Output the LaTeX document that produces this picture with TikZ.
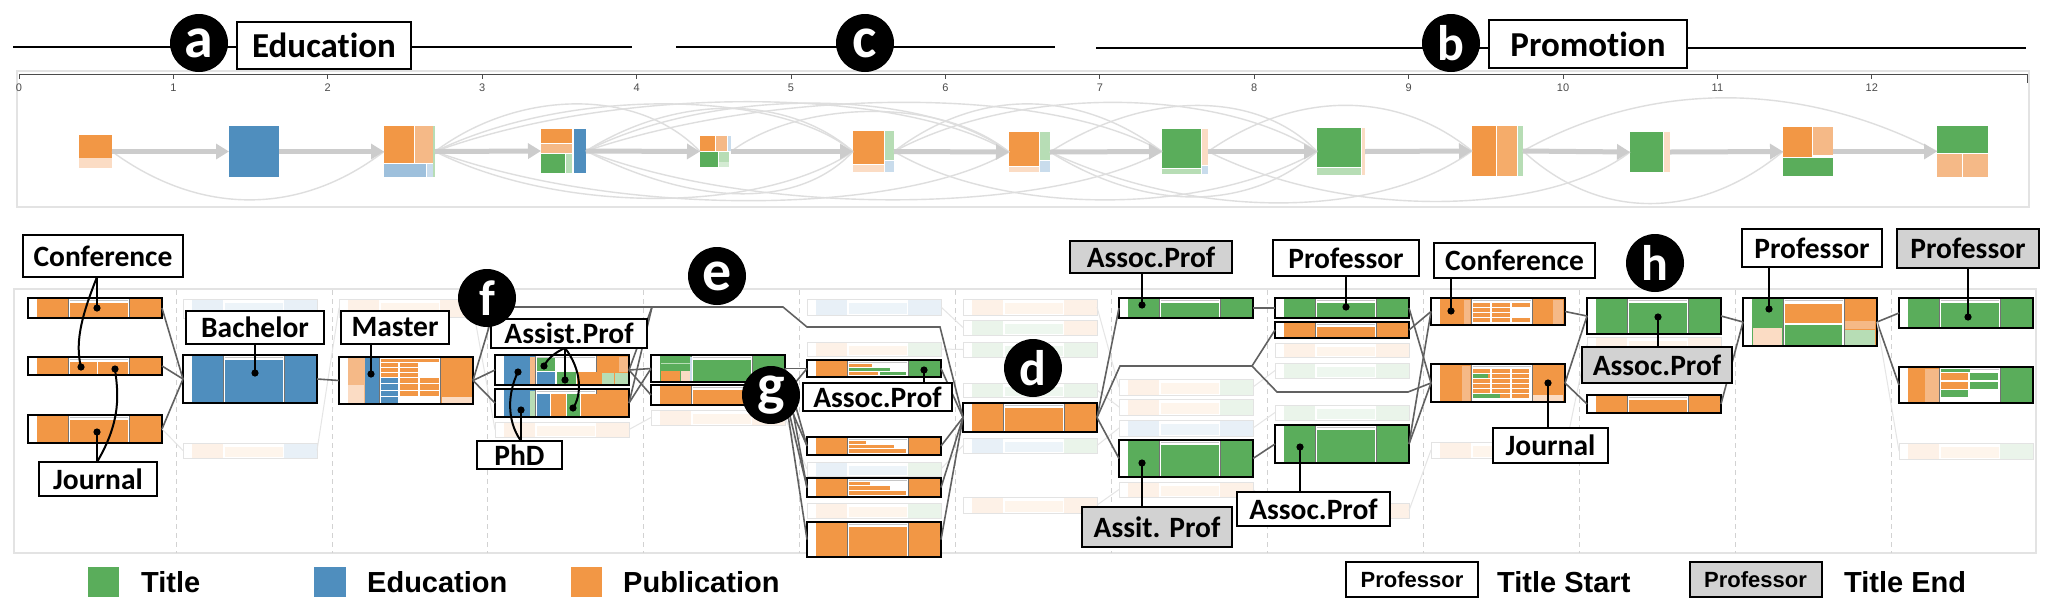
\documentclass[tikz,border=0pt]{standalone}
\usepackage{fontspec}
\newfontfamily\lblf{Carlito}[Ligatures={NoCommon}]
\newfontfamily\arl{Liberation Sans}
\usetikzlibrary{arrows.meta}
\definecolor{cO}{HTML}{F29745}
\definecolor{cG}{HTML}{5AAD5B}
\definecolor{cB}{HTML}{4F8EBE}
\definecolor{cOl}{HTML}{F5B987}
\definecolor{cOll}{HTML}{FBDCC4}
\definecolor{cGl}{HTML}{B7DDB5}
\definecolor{cBl}{HTML}{9EC0DC}
\definecolor{cBll}{HTML}{C9DCEC}
\definecolor{lgray}{HTML}{D2D2D2}
\definecolor{ovgray}{HTML}{CCCCCC}
\newcommand{\card}[7]{%
 \fill[white] (#2,#3) rectangle ({#2+134},{#3+#4});
 \fill[#5] ({#2+9},#3) rectangle ({#2+40},{#3+#4});
 \fill[#7] ({#2+101},#3) rectangle ({#2+134},{#3+#4});
 \fill[#6] ({#2+41.5},{#3+5}) rectangle ({#2+99.5},{#3+#4-1.5});
 \draw[gray!45,line width=.6] ({#2+41.5},{#3+2.5}) -- ({#2+99.5},{#3+2.5});
 \draw[black!55,line width=.6] ({#2+40},#3) -- ({#2+40},{#3+#4}) ({#2+101},#3) -- ({#2+101},{#3+#4});
 \node[cardbox,minimum width=134,minimum height=#4,anchor=north west] (#1) at (#2,#3) {};
}
\newcommand{\fcard}[6]{%
 \fill[#5!13] ({#2+9},#3) rectangle ({#2+40},{#3+#4});
 \fill[#6!13] ({#2+101},#3) rectangle ({#2+134},{#3+#4});
 \fill[#5!10] ({#2+41.5},{#3+4}) rectangle ({#2+99.5},{#3+#4-1.5});
 \node[fadebox,minimum width=134,minimum height=#4,anchor=north west] (#1) at (#2,#3) {};
}
\begin{document}
\begin{tikzpicture}[x=1pt,y=-1pt,
 lbl/.style={draw=black,line width=2,fill=white,font=\lblf\bfseries\fontsize{29.5}{30}\selectfont,inner sep=0,outer sep=0},
 toplbl/.style={lbl,font=\lblf\bfseries\fontsize{35}{36}\selectfont},
 glbl/.style={lbl,fill=lgray},
 circ/.style={circle,fill=black,minimum size=58,inner sep=0,text=white,font=\lblf\bfseries\fontsize{50}{50}\selectfont},
 circx/.style={circ,font=\lblf\bfseries\fontsize{58}{58}\selectfont},
 cardbox/.style={draw=black,line width=2.2,inner sep=0,outer sep=0},
 fadebox/.style={draw=gray!22,line width=0.8,inner sep=0,outer sep=0},
 ovn/.style={inner sep=0,outer sep=0},
 link/.style={draw=black!62,line width=1.6},
 flink/.style={draw=gray!20,line width=1},
 conn/.style={line width=2,black},
 ovarr/.style={draw=ovgray,line width=5,-{Triangle[length=13,width=15]}},
 ovc/.style={draw=gray!26,line width=1.4},
 ticklbl/.style={font=\arl\fontsize{11}{11}\selectfont,text=gray!60!black,inner sep=0},
 leg/.style={font=\arl\bfseries\fontsize{29}{30}\selectfont,inner sep=0,anchor=west},
 lgbox/.style={draw=black,line width=2,inner sep=0,minimum width=132,minimum height=35,font=\arl\bfseries\fontsize{22}{22}\selectfont}
]
\useasboundingbox (0,0) rectangle (2054,606);
\fill[white] (0,0) rectangle (2054,606);

% ---------- top stage lines ----------
\coordinate (ta1) at (13,47); \coordinate (ta2) at (632,47);
\coordinate (tc1) at (676,47); \coordinate (tc2) at (1055,47);
\coordinate (tb1) at (1096,48); \coordinate (tb2) at (2026,48);
\draw[line width=2.6] (ta1) -- (ta2);
\draw[line width=2.6] (tc1) -- (tc2);
\draw[line width=2.6] (tb1) -- (tb2);
\node[toplbl,minimum width=174,minimum height=47] (ledu) at (324,45.5) {Education};
\node[toplbl,minimum width=198,minimum height=48] (lpro) at (1588,44) {Promotion};

% ---------- overview panel ----------
\draw[gray!22,line width=1.2] (17,71) rectangle (2029,207);
\draw[gray!60!black,line width=0.9] (19,74) -- (2027,74);
\foreach \i in {0,...,12} {
 \draw[gray!60!black,line width=0.9] ({19+154.4*\i},74) -- ({19+154.4*\i},79);
 \node[ticklbl] (tk\i) at ({19+154.4*\i},88) {\i};
}
\draw[gray!60!black,line width=0.9] (2027,74) -- (2027,83);

% glyphs
\fill[cO] (79,135) rectangle (112,158); \fill[cOll] (79,158) rectangle (112,168);
\fill[cB] (229,126) rectangle (279,177);
\fill[cO] (384,126) rectangle (414,163); \fill[cOl] (414.5,126) rectangle (433,163); \fill[cGl] (433,126) rectangle (435,177); \fill[cBl] (384,163.5) rectangle (426,177); \fill[cBll] (426.5,163.5) rectangle (433,177);
\fill[cO] (541,129) rectangle (572,143); \fill[cOl] (541,143.5) rectangle (572,153); \fill[cG] (541,154) rectangle (565,173); \fill[cGl] (565.5,154) rectangle (572,173); \fill[cB] (574,129) rectangle (586,173);
\fill[cO] (700,136) rectangle (715,151); \fill[cOl] (715.5,136) rectangle (727,151); \fill[cBll] (727.5,136) rectangle (731,151); \fill[cG] (700,152) rectangle (718,167); \fill[cGl] (718.5,152) rectangle (729,162); \fill[cGl!60] (718.5,162) rectangle (729,167);
\fill[cO] (853,131) rectangle (884,164); \fill[cOll] (853,164.5) rectangle (884,172); \fill[cGl] (884.5,131) rectangle (894,160); \fill[cBll] (884.5,160.5) rectangle (894,172);
\fill[cO] (1009,132) rectangle (1039,166); \fill[cOll] (1009,166.5) rectangle (1039,172); \fill[cGl] (1039.5,132) rectangle (1050,160); \fill[cBll] (1039.5,160.5) rectangle (1050,172);
\fill[cG] (1162,129) rectangle (1201,168); \fill[cGl] (1162,168.5) rectangle (1201,174); \fill[cOll] (1201.5,129) rectangle (1208,165); \fill[cBll] (1201.5,165.5) rectangle (1208,174);
\fill[cG] (1317,128) rectangle (1361,167); \fill[cGl] (1317,167.5) rectangle (1361,175); \fill[cOll] (1361.5,128) rectangle (1365,175);
\fill[cO] (1472,126) rectangle (1496,176); \fill[cO!80!white] (1496.5,126) rectangle (1517,176); \fill[cGl] (1517.5,126) rectangle (1523,176);
\fill[cG] (1630,132) rectangle (1663,172); \fill[cOll] (1663.5,132) rectangle (1670,172);
\fill[cO] (1783,127) rectangle (1812,157); \fill[cOl] (1812.5,127) rectangle (1833,155); \fill[cG] (1783,158) rectangle (1833,176);
\fill[cG] (1937,126) rectangle (1988,153); \fill[cOl] (1937,154) rectangle (1961.5,177); \fill[cOl] (1962.5,154) rectangle (1988,177);

\node[ovn,minimum width=33,minimum height=33,anchor=north west] (o1) at (79,135) {};
\node[ovn,minimum width=50,minimum height=51,anchor=north west] (o2) at (229,126) {};
\node[ovn,minimum width=51,minimum height=51,anchor=north west] (o3) at (384,126) {};
\node[ovn,minimum width=45,minimum height=44,anchor=north west] (o4) at (541,129) {};
\node[ovn,minimum width=31,minimum height=31,anchor=north west] (o5) at (700,136) {};
\node[ovn,minimum width=41,minimum height=41,anchor=north west] (o6) at (853,131) {};
\node[ovn,minimum width=41,minimum height=40,anchor=north west] (o7) at (1009,132) {};
\node[ovn,minimum width=46,minimum height=45,anchor=north west] (o8) at (1162,129) {};
\node[ovn,minimum width=48,minimum height=47,anchor=north west] (o9) at (1317,128) {};
\node[ovn,minimum width=51,minimum height=50,anchor=north west] (o10) at (1472,126) {};
\node[ovn,minimum width=40,minimum height=40,anchor=north west] (o11) at (1630,132) {};
\node[ovn,minimum width=50,minimum height=49,anchor=north west] (o12) at (1783,127) {};
\node[ovn,minimum width=51,minimum height=51,anchor=north west] (o13) at (1937,126) {};

% thin curves above
\draw[ovc] (o3.east) .. controls (520,88) and (640,88) .. (o5.west);
\draw[ovc] (o3.east) .. controls (570,86) and (780,90) .. (o6.west);
\draw[ovc] (o3.east) .. controls (620,84) and (900,86) .. (o7.west);
\draw[ovc] (o4.east) .. controls (680,92) and (790,96) .. (o6.west);
\draw[ovc] (o4.east) .. controls (710,88) and (920,86) .. (o7.west);
\draw[ovc] (o4.east) .. controls (780,86) and (1050,86) .. (o8.west);
\draw[ovc] (o5.east) .. controls (800,100) and (940,96) .. (o7.west);
\draw[ovc] (o6.east) .. controls (980,86) and (1080,90) .. (o8.west);
\draw[ovc] (o6.east) .. controls (1020,84) and (1220,88) .. (o9.west);
\draw[ovc] (o7.east) .. controls (1150,88) and (1260,92) .. (o9.west);
\draw[ovc] (o8.east) .. controls (1300,88) and (1400,92) .. (o10.west);
\draw[ovc] (o10.east) .. controls (1650,80) and (1800,80) .. (o13.west);
% thin curves below
\draw[ovc] (o1.east) .. controls (200,216) and (300,216) .. (o3.west);
\draw[ovc] (o3.east) .. controls (560,214) and (760,214) .. (o6.west);
\draw[ovc] (o3.east) .. controls (620,218) and (900,216) .. (o7.west);
\draw[ovc] (o4.east) .. controls (700,208) and (800,208) .. (o6.west);
\draw[ovc] (o4.east) .. controls (760,218) and (1050,214) .. (o8.west);
\draw[ovc] (o6.east) .. controls (1000,214) and (1200,218) .. (o9.west);
\draw[ovc] (o7.east) .. controls (1150,214) and (1250,210) .. (o9.west);
\draw[ovc] (o7.east) .. controls (1200,222) and (1380,218) .. (o10.west);
\draw[ovc] (o8.east) .. controls (1350,222) and (1550,214) .. (o11.west);
\draw[ovc] (o10.east) .. controls (1600,222) and (1700,220) .. (o12.west);
% main arrows
\draw[ovarr] (o1.east) -- (o2.west);
\draw[ovarr] (o2.east) -- (o3.west);
\draw[ovarr] (o3.east) -- (o4.west);
\draw[ovarr] (o4.east) -- (o5.west);
\draw[ovarr] (o5.east) -- (o6.west);
\draw[ovarr] (o6.east) -- (o7.west);
\draw[ovarr] (o7.east) -- (o8.west);
\draw[ovarr] (o8.east) -- (o9.west);
\draw[ovarr] (o9.east) -- (o10.west);
\draw[ovarr] (o10.east) -- (o11.west);
\draw[ovarr] (o11.east) -- (o12.west);
\draw[ovarr] (o12.east) -- (o13.west);

% ---------- detail panel ----------
\draw[gray!22,line width=1.2] (14,289) rectangle (2036,553);
\foreach \k in {0,...,11}
 \draw[gray!35,line width=0.8,dash pattern=on 5pt off 4pt] ({176+155.9*\k},290) -- ({176+155.9*\k},553);

% faded cards
\fcard{f1a}{183}{299}{19}{cB}{cB}
\fcard{f1b}{183}{443}{15}{cO}{cB}
\fcard{f2a}{339}{299}{18}{cO}{cO}
\fcard{f3a}{495}{422}{15}{cO}{cO}
\fcard{f4a}{651}{410}{15}{cO}{cO}
\fcard{f5a}{807}{299}{16}{cB}{cB}
\fcard{f5b}{807}{342}{14}{cO}{cG}
\fcard{f5c}{807}{462}{14}{cB}{cG}
\fcard{f5d}{807}{503}{15}{cO}{cG}
\fcard{f6a}{963}{299}{16}{cO}{cO}
\fcard{f6b}{963}{320}{15}{cG}{cO}
\fcard{f6c}{963}{342}{15}{cG}{cG}
\fcard{f6d}{963}{383}{14}{cG}{cG}
\fcard{f6e}{963}{438}{15}{cB}{cG}
\fcard{f6f}{963}{497}{16}{cO}{cO}
\fcard{f7a}{1119}{379}{16}{cO}{cG}
\fcard{f7b}{1119}{399}{16}{cO}{cG}
\fcard{f7c}{1119}{420}{16}{cB}{cB}
\fcard{f7d}{1119}{482}{15}{cO}{cO}
\fcard{f8a}{1275}{343}{14}{cO}{cO}
\fcard{f8b}{1275}{363}{15}{cG}{cG}
\fcard{f8c}{1275}{405}{15}{cG}{cG}
\fcard{f8d}{1275}{503}{15}{cO}{cO}
\fcard{f9a}{1431}{442}{16}{cO}{cO}
\fcard{f10a}{1587}{337}{15}{cO}{cO}
\fcard{f12a}{1899}{443}{16}{cO}{cG}

% highlighted cards
\card{c0a}{28}{298}{20}{cO}{cO}{cO}
\card{c0b}{28}{357}{18}{cO}{cO}{cO}
\draw[white,line width=1] (97,362) -- (97,374);
\card{c0c}{28}{415}{28}{cO}{cO}{cO}

% faded links
\draw[flink] (c0c.east) -- (f1b.west);
\draw[flink] (f1b.east) -- (f2a.west);
\draw[flink] (f2a.east) -- (f3a.west);
\draw[flink] (f3a.east) -- (f4a.west);
\draw[flink] (f4a.east) -- (f5c.west);
\draw[flink] (f5a.east) -- (f6b.west);
\draw[flink] (f5b.east) -- (f6c.west);
\draw[flink] (f5c.east) -- (f6e.west);
\draw[flink] (f6a.east) -- (f7a.west);
\draw[flink] (f6d.east) -- (f7b.west);
\draw[flink] (f6e.east) -- (f7c.west);
\draw[flink] (f6f.east) -- (f7d.west);
\draw[flink] (f7a.east) -- (f8b.west);
\draw[flink] (f7c.east) -- (f8c.west);
\draw[flink] (f7d.east) -- (f8d.west);
\draw[flink] (f8d.east) -- (f9a.west);
\draw[flink] (f9a.east) -- (f10a.west);

\card{cbach}{183}{355}{48}{cB}{cB}{cB}
\card{cmast}{339}{357}{47}{cOl}{white}{cO}
\fill[cOll] (348,385) rectangle (364,403);
\fill[cB] (364.5,358) rectangle (379,403);
\fill[cO] (381,359) rectangle (439,361.5);
\foreach \yy in {362.5,367.5,372.5} {\fill[cO] (381,\yy) rectangle (398,\yy+4); \fill[cO] (400,\yy) rectangle (418,\yy+4);}
\foreach \yy in {377.5,384,390.5} {\fill[cB] (381,\yy) rectangle (398,\yy+5.5); \fill[cO] (400,\yy) rectangle (418,\yy+5.5); \fill[cO] (420,\yy) rectangle (439,\yy+5.5);}
\fill[cB] (381,397) rectangle (398,402.5);
\fill[cOll] (441.5,397) rectangle (472,402.5);
\card{c3a}{495}{355}{30}{cB}{white}{cO}
\fill[cOl] (530,356.5) rectangle (535,383.5);
\fill[cG] (537,358) rectangle (555,370.5);
\fill[cB] (537,371.5) rectangle (555,383.5);
\fill[cG] (556.5,371.5) rectangle (575.5,383.5);
\fill[cO] (577,371.5) rectangle (599.5,383.5);
\fill[cOl] (619,356.5) rectangle (628,372);
\fill[cGl] (602,372.5) rectangle (614,383.5);
\fill[cGl] (615,372.5) rectangle (628,383.5);
\card{c3b}{495}{389}{28}{cB}{white}{cO}
\fill[cGl] (530,390.5) rectangle (535,415.5);
\fill[cB] (537,394) rectangle (550,415.5);
\fill[cO] (551,394) rectangle (566,415.5);
\fill[cG] (567,394) rectangle (580,415.5);
\fill[cO] (581,394) rectangle (599.5,415.5);
\card{c4a}{651}{355}{27}{cG}{cG}{cG}
\fill[cGl] (661,363) rectangle (690,364);
\fill[cO] (661,371) rectangle (680,380.5);
\fill[cOll] (680.5,371) rectangle (690,380.5);
\fill[cBll] (690,356.5) rectangle (692,380.5);
\card{c4b}{651}{385}{20}{cO}{cO}{cO}
\card{c5a}{807}{360}{17}{cO}{white}{cG}
\fill[cO] (849,364) rectangle (872,366.5);
\fill[cG] (849,367.5) rectangle (890,370.5);
\fill[cO] (849,371.5) rectangle (878,374.5);
\fill[cG] (880,371.5) rectangle (906,374.5);
\card{c5b}{807}{437}{18}{cO}{white}{cO}
\fill[cO] (849,441) rectangle (866,443.5);
\fill[cO] (849,444.5) rectangle (894,448);
\fill[cO] (849,449) rectangle (906,453);
\card{c5c}{807}{478}{19}{cO}{white}{cO}
\fill[cO] (849,482) rectangle (870,484.5);
\fill[cO] (849,485.5) rectangle (890,489.5);
\fill[cO] (849,490.5) rectangle (906,495);
\card{c5d}{807}{522}{35}{cO}{cO}{cO}
\card{cd}{963}{403}{29}{cO}{cO}{cO}
\card{c7a}{1119}{298}{20}{cG}{cG}{cG}
\card{c7b}{1119}{440}{37}{cG}{cG}{cG}
\card{c8a}{1275}{298}{20}{cG}{cG}{cG}
\card{c8b}{1275}{322}{16}{cO}{cO}{cO}
\card{c8c}{1275}{425}{38}{cG}{cG}{cG}
\card{c9a}{1431}{298}{27}{cO}{white}{cO}
\fill[cOl] (1464,299.5) rectangle (1470,323.5);
\foreach \yy in {303,308,313,318} {\fill[cO] (1473,\yy) rectangle (1490,\yy+3.5); \fill[cO] (1492,\yy) rectangle (1510,\yy+3.5);}
\fill[cO] (1512,303) rectangle (1530,306.5); \fill[cO] (1512,318) rectangle (1530,321.5);
\fill[cOl] (1553,299.5) rectangle (1563,323.5);
\card{c9b}{1431}{364}{38}{cO}{white}{cO}
\fill[cOl] (1462,365.5) rectangle (1470,400.5);
\foreach \yy in {369,374,379,384,389,394} {\fill[cO] (1473,\yy) rectangle (1490,\yy+3.5); \fill[cO] (1492,\yy) rectangle (1510,\yy+3.5); \fill[cO] (1512,\yy) rectangle (1529,\yy+3.5);}
\fill[cG] (1473,374) rectangle (1488,377.5); \fill[cG] (1473,394) rectangle (1500,397.5);
\fill[cOll] (1533,395) rectangle (1563,400.5);
\card{c10a}{1587}{298}{36}{cG}{cG}{cG}
\card{c10b}{1587}{395}{18}{cO}{cO}{cO}
\card{c11}{1743}{298}{48}{cG}{white}{cO}
\fill[cOll] (1753,328) rectangle (1782,344.5);
\fill[cO] (1785,304) rectangle (1842,323);
\fill[cG] (1785,325) rectangle (1842,344.5);
\fill[cOl] (1845,321) rectangle (1875,329);
\fill[cGl] (1845,329.5) rectangle (1875,344.5);
\card{c12a}{1899}{298}{30}{cG}{cG}{cG}
\card{c12b}{1899}{367}{36}{cO}{white}{cG}
\fill[cOl] (1925,368.5) rectangle (1939,401.5);
\fill[cG] (1941,369) rectangle (1970,371.5);
\fill[cO] (1941,373) rectangle (1968,380); \fill[cG] (1970,373) rectangle (1998,380);
\fill[cO] (1941,381.5) rectangle (1968,388.5); \fill[cG] (1970,381.5) rectangle (1998,388.5);
\fill[cG] (1941,390) rectangle (1968,397);

% dark links
\draw[link] (c0a.east) -- (cbach.west);
\draw[link] (c0b.east) -- (cbach.west);
\draw[link] (c0c.east) -- (cbach.west);
\draw[link] (cbach.east) -- (cmast.west);
\draw[link] (cmast.east) -- (c3a.west);
\draw[link] (cmast.east) -- (c3b.west);
\draw[link] (cmast.east) -- (495,307) -- (783,307) -- (807,327) -- (940,327) -- (cd.west);
\draw[link] (c3a.east) -- (652,307);
\draw[link] (c3b.east) -- (652,307);
\draw[link] (c3a.east) -- (c4a.west);
\draw[link] (c3a.east) -- (c4b.west);
\draw[link] (c3b.east) -- (c4a.west);
\draw[link] (c4a.east) -- (c5a.west);
\draw[link] (c4a.east) -- (c5b.west);
\draw[link] (c4a.east) -- (c5c.west);
\draw[link] (c4b.east) -- (c5a.west);
\draw[link] (c4b.east) -- (c5b.west);
\draw[link] (c4b.east) -- (c5c.west);
\draw[link] (c4b.east) -- (c5d.west);
\draw[link] (c5a.east) -- (cd.west);
\draw[link] (c5b.east) -- (cd.west);
\draw[link] (c5c.east) -- (cd.west);
\draw[link] (c5d.east) -- (cd.west);
\draw[link] (cd.east) -- (c7a.west);
\draw[link] (cd.east) -- (c7b.west);
\draw[link] (cd.east) -- (1120,366) -- (1252,366) -- (c8b.west);
\draw[link] (1252,366) -- (1277,392) -- (1408,392) -- (c9b.west);
\draw[link] (c7a.east) -- (c8a.west);
\draw[link] (c7b.east) -- (c8c.west);
\draw[link] (c8a.east) -- (c9b.west);
\draw[link] (c8b.east) -- (c9a.west);
\draw[link] (c8c.east) -- (c9a.west);
\draw[link] (c8c.east) -- (c9b.west);
\draw[link] (c9a.east) -- (c10a.west);
\draw[link] (c9b.east) -- (c10a.west);
\draw[link] (c9b.east) -- (c10b.west);
\draw[link] (c10a.east) -- (c11.west);
\draw[link] (c10b.east) -- (c11.west);
\draw[link] (c11.east) -- (c12a.west);
\draw[link] (c11.east) -- (c12b.west);
\draw[flink] (c11.east) -- (f12a.west);

% ---------- labels ----------
\node[lbl,minimum width=160,minimum height=42] (lconf0) at (103,256) {Conference};
\node[lbl,minimum width=118,minimum height=34] (ljour0) at (98,479) {Journal};
\node[lbl,minimum width=138,minimum height=33] (lbach) at (255,327.5) {Bachelor};
\node[lbl,minimum width=108,minimum height=33] (lmast) at (395,327.5) {Master};
\node[lbl,minimum width=156,minimum height=29] (lassist) at (569,333.5) {Assist.Prof};
\node[lbl,minimum width=85,minimum height=28] (lphd) at (519.5,455) {PhD};
\node[lbl,minimum width=149,minimum height=28] (lassoc5) at (877.5,397) {Assoc.Prof};
\node[glbl,minimum width=162,minimum height=32] (lassoc7) at (1151,257) {Assoc.Prof};
\node[glbl,minimum width=150,minimum height=40] (lassit7) at (1157,527) {Assit. Prof};
\node[lbl,minimum width=146,minimum height=36] (lprof8) at (1346,258) {Professor};
\node[lbl,minimum width=153,minimum height=34] (lassoc8) at (1313.5,509) {Assoc.Prof};
\node[lbl,minimum width=161,minimum height=35] (lconf9) at (1514.5,260.5) {Conference};
\node[lbl,minimum width=115,minimum height=35] (ljour9) at (1550.5,445.5) {Journal};
\node[glbl,minimum width=150,minimum height=36] (lassoc10) at (1657,365) {Assoc.Prof};
\node[lbl,minimum width=140,minimum height=38] (lprof11) at (1812,248) {Professor};
\node[glbl,minimum width=142,minimum height=39] (lprof12) at (1968,248.5) {Professor};

% dot targets
\coordinate (p1) at (97,308); \coordinate (p2) at (81,367);
\coordinate (p3) at (97,432); \coordinate (p4) at (115,369);
\coordinate (p5) at (255,373); \coordinate (p6) at (371,374);
\coordinate (p7) at (544,366); \coordinate (p8) at (565,380); \coordinate (p9) at (573,408);
\coordinate (p10) at (518,372); \coordinate (p11) at (521,410);
\coordinate (p12) at (924,370);
\coordinate (p13) at (1142,305); \coordinate (p14) at (1142,463);
\coordinate (p15) at (1346,307); \coordinate (p16) at (1300,447);
\coordinate (p17) at (1451,311); \coordinate (p18) at (1548,383);
\coordinate (p19) at (1658,317); \coordinate (p20) at (1769,309); \coordinate (p21) at (1968,317);

\draw[conn] (lconf0.south -| p1) -- (p1);
\draw[conn] (lconf0.south -| p1) .. controls (84,310) and (74,340) .. (p2);
\draw[conn] (ljour0.north -| p3) -- (p3);
\draw[conn] (ljour0.north -| p3) .. controls (122,420) and (118,392) .. (p4);
\draw[conn] (lbach.south -| p5) -- (p5);
\draw[conn] (lmast.south -| p6) -- (p6);
\draw[conn] (lassist.south -| p8) .. controls (556,352) and (548,358) .. (p7);
\draw[conn] (lassist.south -| p8) -- (p8);
\draw[conn] (lassist.south -| p8) .. controls (582,370) and (582,395) .. (p9);
\draw[conn] (lphd.north -| p11) -- (p11);
\draw[conn] (lphd.north -| p11) .. controls (506,420) and (508,392) .. (p10);
\draw[conn] (lassoc5.north -| p12) -- (p12);
\draw[conn] (lassoc7.south -| p13) -- (p13);
\draw[conn] (lassit7.north -| p14) -- (p14);
\draw[conn] (lprof8.south -| p15) -- (p15);
\draw[conn] (lassoc8.north -| p16) -- (p16);
\draw[conn] (lconf9.south -| p17) -- (p17);
\draw[conn] (ljour9.north -| p18) -- (p18);
\draw[conn] (lassoc10.north -| p19) -- (p19);
\draw[conn] (lprof11.south -| p20) -- (p20);
\draw[conn] (lprof12.south -| p21) -- (p21);
\foreach \p in {p1,p2,p3,p4,p5,p6,p7,p8,p9,p10,p11,p12,p13,p14,p15,p16,p17,p18,p19,p20,p21}
 \fill[black] (\p) circle (3.6);

% ---------- letter circles ----------
\node[circx] (ca) at (199,43) {a};
\node[circx] (cc) at (865,43) {c};
\node[circ] (cbb) at (1451,43) {b};
\node[circ] (cf) at (487,298) {f};
\node[circx] (ce) at (717,276) {e};
\node[circx] (cg) at (771,395) {g};
\node[circ] (cdd) at (1033,368) {d};
\node[circ] (ch) at (1655,263) {h};

% ---------- legend ----------
\node[inner sep=0,fill=cG,minimum width=31,minimum height=30] (sw1) at (103.5,582) {};
\node[leg] (lt1) at (141,582) {Title};
\node[inner sep=0,fill=cB,minimum width=32,minimum height=30] (sw2) at (330,582) {};
\node[leg] (lt2) at (367,582) {Education};
\node[inner sep=0,fill=cO,minimum width=31,minimum height=30] (sw3) at (586.5,582) {};
\node[leg] (lt3) at (623,582) {Publication};
\node[lgbox,fill=white] (lg1) at (1412,579.5) {Professor};
\node[leg] (lt4) at (1497,582) {Title Start};
\node[lgbox,fill=lgray] (lg2) at (1755.5,579.5) {Professor};
\node[leg] (lt5) at (1844,582) {Title End};
\end{tikzpicture}
\end{document}
